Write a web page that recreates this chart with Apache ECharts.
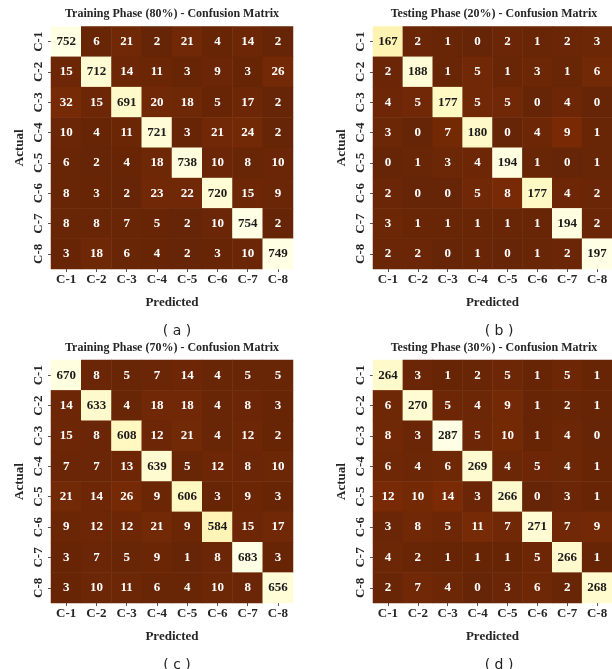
<!DOCTYPE html>
<html><head><meta charset="utf-8">
<script src="https://cdn.jsdelivr.net/npm/echarts@6/dist/echarts.min.js"></script>
<style>html,body{margin:0;padding:0;background:#fff}#c{width:612px;height:669px}</style>
</head><body><div id="c"></div>
<script>
const classes = ['C-1','C-2','C-3','C-4','C-5','C-6','C-7','C-8'];
const titles = ['Training Phase (80%) - Confusion Matrix','Testing Phase (20%) - Confusion Matrix','Training Phase (70%) - Confusion Matrix','Testing Phase (30%) - Confusion Matrix'];
const panelTags = ['( a )','( b )','( c )','( d )'];
const train80 = [
 [752,6,21,2,21,4,14,2],
 [15,712,14,11,3,9,3,26],
 [32,15,691,20,18,5,17,2],
 [10,4,11,721,3,21,24,2],
 [6,2,4,18,738,10,8,10],
 [8,3,2,23,22,720,15,9],
 [8,8,7,5,2,10,754,2],
 [3,18,6,4,2,3,10,749]
];
const test20 = [
 [167,2,1,0,2,1,2,3],
 [2,188,1,5,1,3,1,6],
 [4,5,177,5,5,0,4,0],
 [3,0,7,180,0,4,9,1],
 [0,1,3,4,194,1,0,1],
 [2,0,0,5,8,177,4,2],
 [3,1,1,1,1,1,194,2],
 [2,2,0,1,0,1,2,197]
];
const train70 = [
 [670,8,5,7,14,4,5,5],
 [14,633,4,18,18,4,8,3],
 [15,8,608,12,21,4,12,2],
 [7,7,13,639,5,12,8,10],
 [21,14,26,9,606,3,9,3],
 [9,12,12,21,9,584,15,17],
 [3,7,5,9,1,8,683,3],
 [3,10,11,6,4,10,8,656]
];
const test30 = [
 [264,3,1,2,5,1,5,1],
 [6,270,5,4,9,1,2,1],
 [8,3,287,5,10,1,4,0],
 [6,4,6,269,4,5,4,1],
 [12,10,14,3,266,0,3,1],
 [3,8,5,11,7,271,7,9],
 [4,2,1,1,1,5,266,1],
 [2,7,4,0,3,6,2,268]
];
const matrices = [train80, test20, train70, test30];

const cmap = ['#662506','#993404','#cc4c02','#ec7014','#fe9929','#fec44f','#fee391','#fff7bc','#ffffe5'];
const serif = 'Liberation Serif';
const grids = [
  {left:51, top:26.5, width:242, height:242.5},
  {left:373, top:26.5, width:242, height:242.5},
  {left:51, top:360, width:242, height:243},
  {left:373, top:360, width:242, height:243}
];

const xAxes = [], yAxes = [], series = [], visualMaps = [], graphics = [];
matrices.forEach((m, i) => {
  const flat = m.flat();
  const mn = Math.min(...flat), mx = Math.max(...flat);
  const data = [];
  m.forEach((row, r) => row.forEach((v, c) => {
    const t = (v - mn) / (mx - mn);
    data.push({value:[c, r, v], label:{color: t > 0.5 ? '#1a1a1a' : '#fff'}});
  }));
  xAxes.push({
    type:'category', data:classes, gridIndex:i,
    axisLine:{show:false},
    axisTick:{show:true, alignWithLabel:true, length:3, lineStyle:{color:'#555'}},
    axisLabel:{margin:4, fontFamily:serif, fontWeight:'bold', fontSize:13, color:'#262626'},
    splitLine:{show:false},
    name:'Predicted', nameLocation:'middle', nameGap:27,
    nameTextStyle:{fontFamily:serif, fontWeight:'bold', fontSize:13, color:'#262626'}
  });
  yAxes.push({
    type:'category', data:classes, gridIndex:i, inverse:true,
    axisLine:{show:false},
    axisTick:{show:true, alignWithLabel:true, length:3, lineStyle:{color:'#555'}},
    axisLabel:{rotate:90, margin:6, fontFamily:serif, fontWeight:'bold', fontSize:13, color:'#262626'},
    splitLine:{show:false},
    name:'Actual', nameLocation:'middle', nameGap:25, nameRotate:90,
    nameTextStyle:{fontFamily:serif, fontWeight:'bold', fontSize:13, color:'#262626'}
  });
  series.push({
    type:'heatmap', xAxisIndex:i, yAxisIndex:i, data:data,
    label:{show:true, fontFamily:serif, fontWeight:'bold', fontSize:13},
    itemStyle:{borderWidth:0},
    emphasis:{disabled:true}
  });
  visualMaps.push({type:'continuous', show:false, seriesIndex:i, dimension:2, min:mn, max:mx, inRange:{color:cmap}});
  const g = grids[i];
  const cx = g.left + g.width / 2;
  graphics.push({type:'text', x:cx, y:g.top - 12.5, style:{text:titles[i], textAlign:'center', textVerticalAlign:'middle', font:'bold 12px "Liberation Serif"', fill:'#262626'}});
  graphics.push({type:'text', x:cx + 5, y:g.top + g.height + 62, style:{text:panelTags[i], textAlign:'center', textVerticalAlign:'middle', font:'14px "DejaVu Sans"', fill:'#222'}});
});

const chart = echarts.init(document.getElementById('c'), null, {renderer:'canvas'});
chart.setOption({
  animation:false,
  backgroundColor:'#ffffff',
  grid: grids,
  xAxis: xAxes,
  yAxis: yAxes,
  visualMap: visualMaps,
  series: series,
  graphic: graphics
});
</script>
</body></html>
